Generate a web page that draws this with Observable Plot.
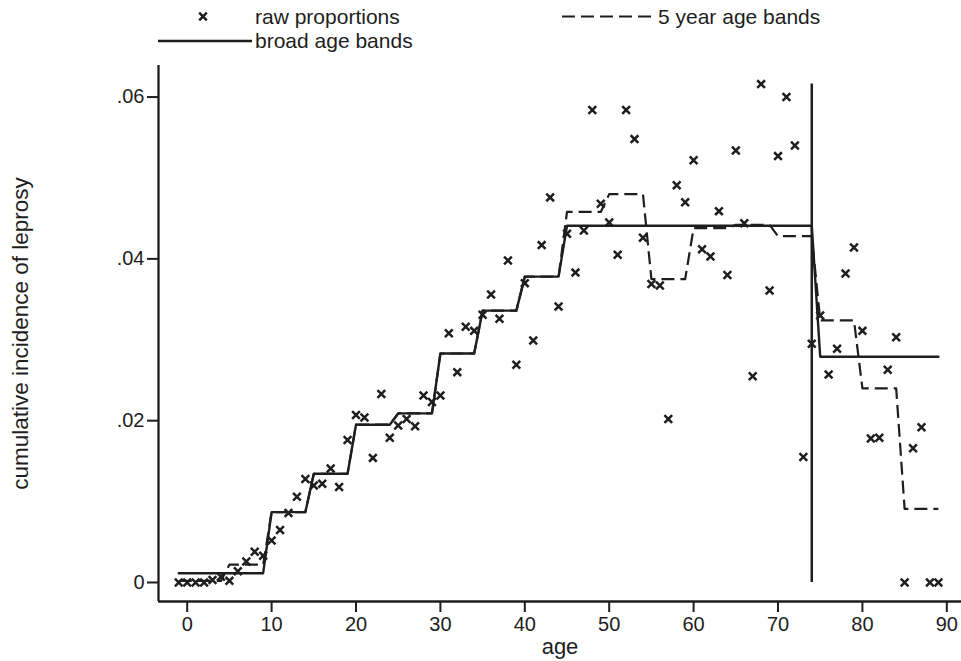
<!DOCTYPE html>
<html>
<head>
<meta charset="utf-8">
<script src="https://cdn.jsdelivr.net/npm/d3@7"></script>
<script src="https://cdn.jsdelivr.net/npm/@observablehq/plot@0.6"></script>
<style>
  body { margin: 0; background: #fff; }
  #wrap { width: 961px; height: 661px; position: relative; background: #fff; }
  #legend { display: block; }
  #chart svg [aria-label$="tick"] { stroke-width: 2px; }
  #chart svg [aria-label$="tick label"] { font-size: 20px; }
  #chart svg [aria-label="y-axis label"] { font-size: 22.5px; }
  #chart svg [aria-label="x-axis label"] { font-size: 22px; }
</style>
</head>
<body>
<div id="wrap">
  <svg id="legend" width="961" height="55"></svg>
  <div id="chart"></div>
</div>
<script>
// ---------- data ----------
const ages = [-1, 0, 1, 2, 3, 4, 5, 6, 7, 8, 9,
  10, 11, 12, 13, 14, 15, 16, 17, 18, 19,
  20, 21, 22, 23, 24, 25, 26, 27, 28, 29,
  30, 31, 32, 33, 34, 35, 36, 37, 38, 39,
  40, 41, 42, 43, 44, 45, 46, 47, 48, 49,
  50, 51, 52, 53, 54, 55, 56, 57, 58, 59,
  60, 61, 62, 63, 64, 65, 66, 67, 68, 69,
  70, 71, 72, 73, 74, 75, 76, 77, 78, 79,
  80, 81, 82, 83, 84, 85, 86, 87, 88, 89];

const rawProportions = [0, 0, 0, 0, 0.0003, 0.0007, 0.0002, 0.0014, 0.0026, 0.0038, 0.0033,
  0.0052, 0.0065, 0.0086, 0.0106, 0.0128, 0.0120, 0.0122, 0.0141, 0.0118, 0.0176,
  0.0207, 0.0204, 0.0154, 0.0233, 0.0179, 0.0194, 0.0202, 0.0193, 0.0231, 0.0223,
  0.0231, 0.0308, 0.0260, 0.0316, 0.0311, 0.0331, 0.0356, 0.0326, 0.0398, 0.0269,
  0.0370, 0.0299, 0.0417, 0.0476, 0.0341, 0.0431, 0.0383, 0.0435, 0.0584, 0.0468,
  0.0445, 0.0405, 0.0584, 0.0548, 0.0426, 0.0369, 0.0367, 0.0202, 0.0491, 0.0470,
  0.0522, 0.0412, 0.0403, 0.0459, 0.0380, 0.0534, 0.0444, 0.0255, 0.0616, 0.0361,
  0.0527, 0.0600, 0.0540, 0.0155, 0.0295, 0.0330, 0.0257, 0.0289, 0.0382, 0.0414,
  0.0311, 0.0178, 0.0179, 0.0263, 0.0303, 0, 0.0166, 0.0192, 0, 0];

const broadBandStart = [-1, 10, 15, 20, 25, 30, 35, 40, 45, 75];
const broadBandEnd   = [9, 14, 19, 24, 29, 34, 39, 44, 74, 89];
const broadBandValue = [0.00115, 0.0087, 0.01344, 0.0195, 0.0209, 0.0283, 0.0336, 0.0378, 0.0441, 0.0279];

const fiveYearStart = [-1, 5, 10, 15, 20, 25, 30, 35, 40, 45, 50, 55, 60, 65, 70, 75, 80, 85];
const fiveYearEnd   = [4, 9, 14, 19, 24, 29, 34, 39, 44, 49, 54, 59, 64, 69, 74, 79, 84, 89];
const fiveYearValue = [0.0002, 0.0022, 0.0087, 0.01344, 0.0195, 0.0209, 0.0283, 0.0336, 0.0378,
  0.0458, 0.0480, 0.0375, 0.0438, 0.0442, 0.0428, 0.0324, 0.0240, 0.0091];

const cutAge = 74;
const xTicks = [0, 10, 20, 30, 40, 50, 60, 70, 80, 90];
const yTicks = [0, 0.02, 0.04, 0.06];
const xDomain = [-3.4, 91.74];
const yDomain = [-0.00235, 0.0639];

const legendLabels = ["raw proportions", "5 year age bands", "broad age bands"];
const xLabel = "age";
const yLabel = "cumulative incidence of leprosy";

// ---------- build tables ----------
const INK = "#1e1e1e";
const FONT = "'Liberation Sans', Arial, sans-serif";
const bandOf = (starts, ends, values, a) => values[starts.findIndex((s, i) => a >= s && a <= ends[i])];
const raw = ages.map((a, i) => ({age: a, value: rawProportions[i]}));
const broad = ages.map(a => ({age: a, value: bandOf(broadBandStart, broadBandEnd, broadBandValue, a)}));
const five = ages.map(a => ({age: a, value: bandOf(fiveYearStart, fiveYearEnd, fiveYearValue, a)}));
const maxRaw = d3.max(rawProportions);

const yFmt = d => d === 0 ? "0" : d3.format(".2f")(d).replace(/^0/, "");

const chart = Plot.plot({
  width: 961,
  height: 606,
  marginTop: 10,
  marginBottom: 60,
  marginLeft: 158,
  marginRight: 0,
  style: {fontFamily: FONT, fontSize: "21px", color: INK, background: "#fff", overflow: "visible"},
  x: {domain: xDomain, ticks: xTicks, tickSize: 11, tickPadding: 4, tickFormat: d => String(d),
      label: xLabel, labelAnchor: "center", labelOffset: 52, labelArrow: "none"},
  y: {domain: yDomain, ticks: yTicks, tickSize: 11, tickPadding: 3, tickFormat: yFmt,
      label: yLabel, labelAnchor: "center", labelOffset: 146, labelArrow: "none"},
  marks: [
    Plot.ruleY([yDomain[0]], {stroke: INK, strokeWidth: 2.3}),
    Plot.ruleX([xDomain[0]], {stroke: INK, strokeWidth: 2.3}),
    Plot.line(five, {x: "age", y: "value", stroke: INK, strokeWidth: 2.2, strokeDasharray: "13,6", strokeLinecap: "butt"}),
    Plot.line(broad, {x: "age", y: "value", stroke: INK, strokeWidth: 2.4}),
    Plot.ruleX([cutAge], {y1: 0, y2: maxRaw, stroke: INK, strokeWidth: 2.5}),
    Plot.dot(raw, {x: "age", y: "value", symbol: "times", r: 3.6, stroke: INK, strokeWidth: 2.5})
  ]
});
document.getElementById("chart").appendChild(chart);

// ---------- legend ----------
const lg = d3.select("#legend");
const fs = 21;
const row1 = 16.5, row2 = 41;
// raw proportions marker
lg.append("path").attr("d", `M199.2,${row1 - 3.8}L206.8,${row1 + 3.8}M206.8,${row1 - 3.8}L199.2,${row1 + 3.8}`)
  .attr("stroke", INK).attr("stroke-width", 2.5);
lg.append("text").attr("x", 255).attr("y", row1).attr("dy", "0.35em").text(legendLabels[0]);
// 5 year
lg.append("line").attr("x1", 562).attr("x2", 655).attr("y1", row1).attr("y2", row1)
  .attr("stroke", INK).attr("stroke-width", 2.2).attr("stroke-dasharray", "13,6");
lg.append("text").attr("x", 658).attr("y", row1).attr("dy", "0.35em").text(legendLabels[1]);
// broad
lg.append("line").attr("x1", 158).attr("x2", 252).attr("y1", row2).attr("y2", row2)
  .attr("stroke", INK).attr("stroke-width", 2.4);
lg.append("text").attr("x", 255).attr("y", row2).attr("dy", "0.35em").text(legendLabels[2]);
lg.selectAll("text").attr("font-family", FONT).attr("font-size", fs).attr("fill", INK);
</script>
</body>
</html>
